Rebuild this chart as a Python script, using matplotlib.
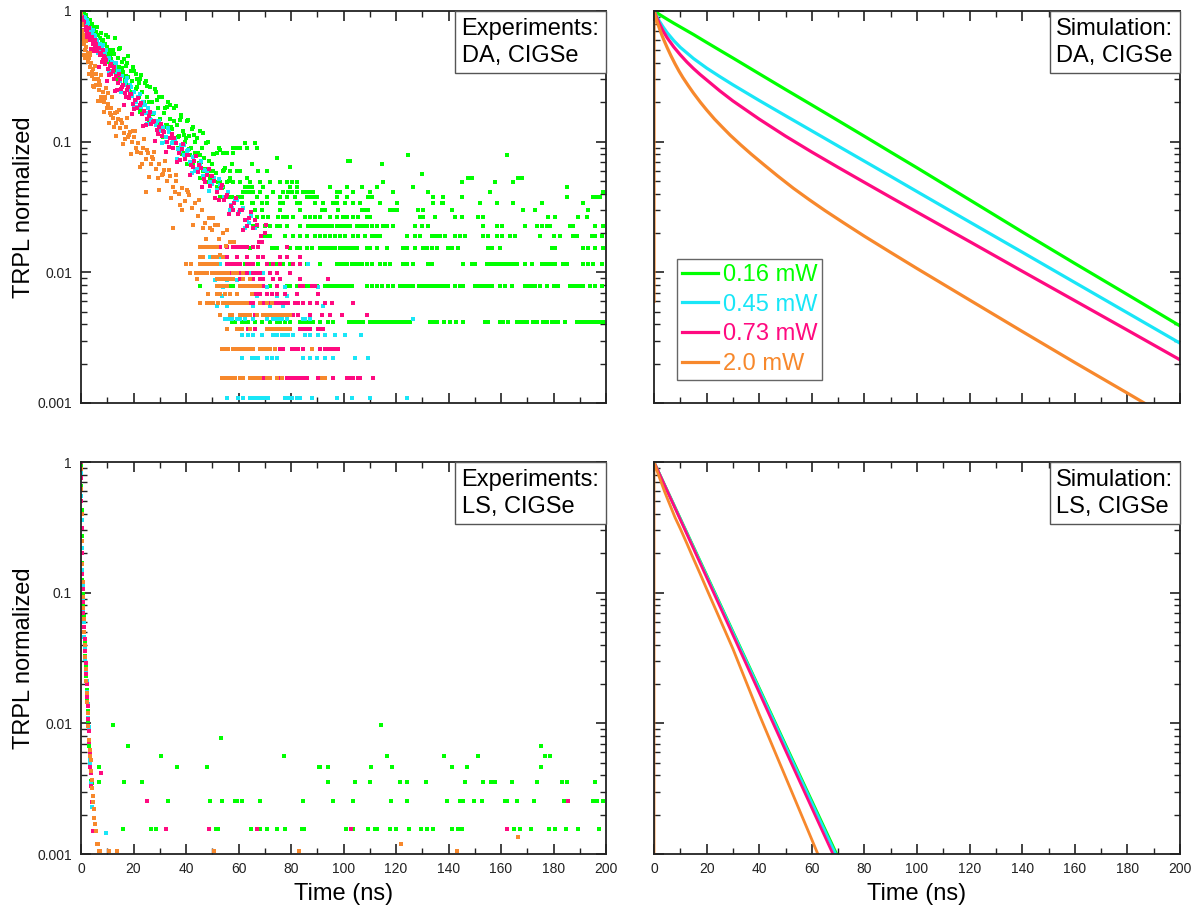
import matplotlib
matplotlib.use("Agg")
import matplotlib.pyplot as plt
from matplotlib.ticker import MultipleLocator, FixedLocator, LogLocator, NullFormatter, FixedFormatter
from matplotlib.offsetbox import AnchoredText

plt.rcParams['font.family'] = ['Liberation Sans', 'DejaVu Sans']

GREEN = '#00FF00'
CYAN = '#19E6F7'
MAGENTA = '#FF0A80'
ORANGE = '#F7882C'

series_labels = ['0.16 mW', '0.45 mW', '0.73 mW', '2.0 mW']
x_ticks = [0, 20, 40, 60, 80, 100, 120, 140, 160, 180, 200]
y_ticks = [0.001, 0.01, 0.1, 1]
y_tick_labels = ['0.001', '0.01', '0.1', '1']

# ---------------- Experiments DA: decay part ----------------
da_green_t = [0.0, 0.3, 0.6, 0.9, 1.2, 1.5, 1.8, 2.1, 2.4, 2.7, 3.0, 3.3, 3.6, 3.9, 4.2, 4.6, 5.0, 5.4, 5.8, 6.2,
              6.6, 7.0, 7.4, 7.8, 8.2, 8.6, 9.0, 9.4, 9.8, 10.2, 10.6, 11.0, 11.5, 12.0, 12.5, 13.0, 13.5, 14.0,
              14.5, 15.0, 15.5, 16.0, 16.6, 17.2, 17.8, 18.4, 19.0, 19.6, 20.2, 20.8, 21.4, 22.0, 22.6, 23.2,
              23.8, 24.4, 25.0, 25.7, 26.4, 27.1, 27.8, 28.5, 29.2, 30.0, 30.8, 31.6, 32.4, 33.2, 34.0, 34.8,
              35.6, 36.4, 37.2, 38.0, 38.8, 39.6, 40.4, 41.2, 42.0, 42.8, 43.6, 44.4, 45.2, 46.0, 46.8]
da_green_y = [1.00, 0.95, 0.90, 0.97, 0.86, 0.91, 0.80, 0.87, 0.83, 0.76, 0.84, 0.72, 0.79, 0.70, 0.75, 0.66, 0.73,
              0.62, 0.69, 0.58, 0.66, 0.55, 0.62, 0.52, 0.60, 0.49, 0.56, 0.45, 0.53, 0.47, 0.41, 0.50, 0.43, 0.38,
              0.47, 0.40, 0.35, 0.44, 0.37, 0.32, 0.41, 0.34, 0.29, 0.38, 0.31, 0.27, 0.35, 0.29, 0.24, 0.33, 0.26,
              0.22, 0.30, 0.24, 0.20, 0.28, 0.22, 0.18, 0.26, 0.20, 0.165, 0.24, 0.18, 0.15, 0.22, 0.165, 0.135,
              0.20, 0.15, 0.125, 0.18, 0.135, 0.11, 0.16, 0.12, 0.10, 0.145, 0.11, 0.09, 0.13, 0.10, 0.082, 0.12,
              0.09, 0.075]
da_green_t2 = [1.1, 2.6, 3.4, 4.9, 5.7, 6.9, 7.6, 8.8, 9.6, 10.9, 11.7, 12.8, 13.4, 14.6, 15.2, 16.3, 17.0, 17.9,
               18.7, 19.8, 20.6, 21.3, 22.4, 23.0, 23.9, 25.3, 26.0, 26.9, 28.1, 29.0, 29.8, 31.2, 32.0, 32.9,
               33.8, 35.0, 36.0, 36.8, 37.7, 38.5, 39.4, 40.9, 41.6, 42.4, 43.3, 44.1, 45.5, 46.3, 47.1, 48.2,
               49.5, 50.6, 51.4, 52.5, 53.6, 55.0]
da_green_y2 = [0.96, 0.75, 0.85, 0.60, 0.76, 0.52, 0.68, 0.42, 0.66, 0.35, 0.48, 0.62, 0.336, 0.51, 0.25, 0.43,
               0.316, 0.45, 0.24, 0.37, 0.21, 0.30, 0.17, 0.325, 0.20, 0.265, 0.144, 0.20, 0.254, 0.139, 0.219,
               0.109, 0.18, 0.134, 0.19, 0.102, 0.188, 0.108, 0.146, 0.081, 0.113, 0.146, 0.079, 0.125, 0.061,
               0.107, 0.079, 0.116, 0.062, 0.099, 0.055, 0.080, 0.058, 0.090, 0.044, 0.063]
da_green_t3 = [0.7, 1.9, 3.0, 4.0, 5.2, 6.1, 7.2, 8.1, 9.2, 10.4, 11.2, 12.2, 13.9, 14.9, 15.8, 16.8, 17.5, 18.2,
               19.3, 20.0, 21.0, 22.0, 22.9, 24.6, 25.9, 27.4, 28.8, 30.5, 31.5, 32.7, 34.3, 35.4, 37.0, 38.1,
               39.9, 41.0, 43.0, 44.8, 45.9, 47.7, 48.9, 50.2, 52.0, 53.1, 54.5, 56.2, 57.5]
da_green_y3 = [0.90, 0.93, 0.74, 0.80, 0.60, 0.76, 0.55, 0.58, 0.45, 0.63, 0.45, 0.50, 0.30, 0.52, 0.365, 0.30,
               0.40, 0.25, 0.24, 0.35, 0.253, 0.28, 0.178, 0.293, 0.20, 0.162, 0.209, 0.128, 0.129, 0.184, 0.13,
               0.144, 0.089, 0.154, 0.106, 0.088, 0.113, 0.069, 0.070, 0.098, 0.071, 0.080, 0.049, 0.086, 0.061,
               0.050, 0.067]

da_cyan_t = [0.1, 0.5, 0.9, 1.3, 1.7, 2.1, 2.5, 2.9, 3.3, 3.7, 4.1, 4.6, 5.1, 5.6, 6.1, 6.6, 7.1, 7.6, 8.1, 8.7,
             9.3, 9.9, 10.5, 11.1, 11.7, 12.3, 12.9, 13.6, 14.3, 15.0, 15.7, 16.4, 17.1, 17.9, 18.7, 19.5, 20.3,
             21.1, 21.9, 22.8, 23.7, 24.6, 25.5, 26.4, 27.4, 28.4, 29.4, 30.4, 31.4, 32.5, 33.6, 34.7, 35.8, 36.9,
             38.0, 39.2, 40.4, 41.6, 42.8, 44.0, 45.3, 46.6, 47.9, 49.2, 50.5, 51.8, 53.1, 54.5, 55.9, 57.3, 58.7,
             60.1, 61.6, 63.1, 64.6, 66.1]
da_cyan_y = [1.0, 0.92, 0.86, 0.90, 0.80, 0.76, 0.81, 0.71, 0.74, 0.66, 0.69, 0.62, 0.65, 0.57, 0.60, 0.53, 0.56,
             0.49, 0.52, 0.46, 0.48, 0.42, 0.44, 0.38, 0.41, 0.35, 0.37, 0.33, 0.35, 0.29, 0.32, 0.27, 0.29, 0.25,
             0.27, 0.225, 0.24, 0.20, 0.22, 0.185, 0.20, 0.165, 0.18, 0.15, 0.165, 0.135, 0.145, 0.12, 0.13, 0.108,
             0.118, 0.097, 0.105, 0.088, 0.095, 0.079, 0.085, 0.070, 0.076, 0.062, 0.068, 0.055, 0.060, 0.049,
             0.053, 0.043, 0.047, 0.038, 0.041, 0.033, 0.036, 0.029, 0.031, 0.025, 0.027, 0.022]
da_cyan_t2 = [1.5, 3.1, 4.4, 6.4, 8.4, 10.8, 13.2, 15.3, 17.5, 20.0, 22.5, 25.1, 27.9, 30.9, 33.0, 36.4, 39.1, 42.2,
              45.8, 48.6, 52.4, 56.6, 59.3, 62.4]
da_cyan_y2 = [0.88, 0.63, 0.72, 0.48, 0.55, 0.34, 0.40, 0.24, 0.305, 0.184, 0.23, 0.136, 0.167, 0.098, 0.127, 0.074,
              0.095, 0.058, 0.071, 0.042, 0.052, 0.030, 0.036, 0.022]
da_cyan_t3 = [0.7, 2.3, 3.9, 5.3, 7.3, 9.5, 11.9, 14.0, 16.6, 19.1, 21.6, 24.2, 26.8, 29.6, 32.2, 34.9, 37.6, 40.9,
              43.6, 46.9, 50.0, 53.7, 57.6, 61.0, 64.0]
da_cyan_y3 = [0.90, 0.85, 0.60, 0.64, 0.50, 0.50, 0.34, 0.35, 0.27, 0.26, 0.185, 0.19, 0.147, 0.143, 0.100, 0.105,
              0.085, 0.086, 0.060, 0.061, 0.0475, 0.046, 0.031, 0.030, 0.024]

da_mag_t = [0.0, 0.3, 0.6, 0.9, 1.2, 1.5, 1.8, 2.1, 2.4, 2.8, 3.2, 3.6, 4.0, 4.4, 4.8, 5.2, 5.7, 6.2, 6.7, 7.2, 7.7,
            8.2, 8.7, 9.2, 9.7, 10.3, 10.9, 11.5, 12.1, 12.7, 13.3, 14.0, 14.7, 15.4, 16.1, 16.8, 17.5, 18.3, 19.1,
            19.9, 20.7, 21.5, 22.3, 23.2, 24.1, 25.0, 25.9, 26.8, 27.8, 28.8, 29.8, 30.8, 31.8, 32.9, 34.0, 35.1,
            36.2, 37.3, 38.4, 39.6, 40.8, 42.0, 43.2, 44.4, 45.6, 46.8, 48.0, 49.3, 50.6, 51.9, 53.2, 54.5, 55.8,
            57.1, 58.4, 59.8, 61.2, 62.6, 64.0, 65.5, 67.0, 68.5, 70.0]
da_mag_y = [0.97, 0.90, 0.84, 0.78, 0.82, 0.72, 0.76, 0.68, 0.71, 0.64, 0.67, 0.60, 0.63, 0.56, 0.59, 0.53, 0.56,
            0.49, 0.52, 0.46, 0.48, 0.42, 0.45, 0.39, 0.42, 0.36, 0.38, 0.33, 0.35, 0.30, 0.32, 0.28, 0.30, 0.255,
            0.27, 0.235, 0.25, 0.215, 0.23, 0.195, 0.21, 0.18, 0.19, 0.162, 0.172, 0.148, 0.158, 0.136, 0.145,
            0.122, 0.13, 0.11, 0.118, 0.10, 0.107, 0.09, 0.097, 0.082, 0.088, 0.074, 0.079, 0.066, 0.071, 0.059,
            0.063, 0.052, 0.056, 0.046, 0.050, 0.041, 0.044, 0.036, 0.039, 0.032, 0.034, 0.028, 0.030, 0.025,
            0.026, 0.022, 0.023, 0.019, 0.020]
da_mag_t2 = [1.0, 2.6, 3.8, 5.5, 6.9, 8.4, 9.9, 11.3, 12.9, 14.4, 16.4, 18.0, 19.6, 21.9, 23.7, 26.3, 28.3, 30.3,
             32.4, 34.5, 36.7, 38.9, 41.4, 43.8, 46.2, 48.6, 51.2, 53.9, 56.4, 59.1, 61.9, 64.8, 67.7, 70.6]
da_mag_y2 = [0.72, 0.74, 0.51, 0.60, 0.37, 0.50, 0.29, 0.39, 0.244, 0.33, 0.19, 0.26, 0.164, 0.216, 0.132, 0.169,
             0.102, 0.137, 0.083, 0.114, 0.070, 0.096, 0.056, 0.078, 0.045, 0.062, 0.037, 0.047, 0.028, 0.037,
             0.021, 0.029, 0.017, 0.023]
da_mag_t3 = [0.4, 1.9, 3.0, 4.6, 6.0, 7.9, 9.0, 10.6, 12.4, 13.7, 15.8, 17.2, 18.7, 20.3, 22.7, 24.6, 27.3, 29.3,
             31.3, 33.5, 35.6, 37.8, 40.2, 42.6, 45.0, 47.4, 50.0, 52.6, 55.1, 57.8, 60.5, 63.3, 66.2, 69.0]
da_mag_y3 = [0.88, 0.63, 0.74, 0.49, 0.51, 0.41, 0.44, 0.324, 0.37, 0.25, 0.26, 0.22, 0.232, 0.177, 0.199, 0.135,
             0.141, 0.114, 0.121, 0.091, 0.107, 0.073, 0.079, 0.064, 0.066, 0.0495, 0.055, 0.036, 0.038, 0.030,
             0.030, 0.0225, 0.025, 0.017]

da_orange_t = [0.0, 0.2, 0.4, 0.6, 0.8, 1.0, 1.3, 1.6, 1.9, 2.2, 2.5, 2.8, 3.1, 3.4, 3.8, 4.2, 4.6, 5.0, 5.4, 5.8,
               6.3, 6.8, 7.3, 7.8, 8.3, 8.8, 9.3, 9.8, 10.4, 11.0, 11.6, 12.2, 12.8, 13.5, 14.2, 14.9, 15.6, 16.3,
               17.0, 17.8, 18.6, 19.4, 20.2, 21.0, 21.9, 22.8, 23.7, 24.6, 25.6, 26.6, 27.6, 28.6, 29.6, 30.7,
               31.8, 32.9, 34.0, 35.1, 36.2, 37.4, 38.6, 39.8, 41.0, 42.2, 43.4, 44.7, 46.0, 47.3, 48.6, 49.9,
               51.2, 52.6, 54.0, 55.4, 56.8]
da_orange_y = [0.95, 0.80, 0.70, 0.62, 0.66, 0.56, 0.59, 0.50, 0.53, 0.45, 0.48, 0.41, 0.44, 0.37, 0.40, 0.34,
               0.36, 0.30, 0.33, 0.27, 0.30, 0.25, 0.27, 0.22, 0.24, 0.20, 0.22, 0.18, 0.195, 0.165, 0.18, 0.152,
               0.165, 0.138, 0.15, 0.127, 0.14, 0.117, 0.13, 0.108, 0.118, 0.099, 0.108, 0.09, 0.098, 0.082, 0.09,
               0.074, 0.082, 0.068, 0.074, 0.062, 0.067, 0.056, 0.061, 0.050, 0.055, 0.045, 0.050, 0.040, 0.044,
               0.035, 0.039, 0.031, 0.034, 0.027, 0.030, 0.024, 0.026, 0.021, 0.023, 0.018, 0.020, 0.016, 0.017]
da_orange_t2 = [0.5, 1.2, 2.0, 2.9, 3.6, 4.5, 5.5, 6.5, 7.5, 8.6, 9.6, 10.8, 11.9, 13.2, 14.5, 15.9, 17.4, 19.0,
                20.6, 22.3, 24.1, 24.6, 26.0, 27.9, 29.9, 31.9, 34.1, 35.2, 36.3, 38.5, 40.2, 42.8, 45.1, 47.6,
                50.2, 52.9, 55.6, 58.1]
da_orange_y2 = [0.78, 0.46, 0.59, 0.33, 0.46, 0.265, 0.38, 0.206, 0.325, 0.169, 0.256, 0.139, 0.22, 0.11, 0.175,
                0.096, 0.151, 0.080, 0.121, 0.064, 0.105, 0.041, 0.054, 0.083, 0.043, 0.071, 0.037, 0.0218, 0.056,
                0.030, 0.0425, 0.023, 0.036, 0.018, 0.026, 0.0135, 0.021, 0.017]
da_orange_t3 = [0.9, 1.6, 2.4, 3.3, 4.0, 4.9, 5.9, 6.9, 8.0, 9.0, 10.1, 11.3, 12.5, 13.9, 15.2, 16.7, 18.2, 19.8,
                21.5, 23.3, 25.2, 27.2, 29.2, 31.3, 33.5, 35.7, 37.9, 40.7, 43.5, 46.4, 49.3, 52.2]
da_orange_y3 = [0.64, 0.44, 0.45, 0.48, 0.32, 0.26, 0.33, 0.29, 0.204, 0.215, 0.234, 0.16, 0.13, 0.168, 0.147,
                0.104, 0.112, 0.121, 0.084, 0.068, 0.087, 0.076, 0.053, 0.057, 0.061, 0.041, 0.033, 0.041, 0.034,
                0.022, 0.022, 0.023]

# ---------------- Experiments DA: quantised noise rows (level -> times) ----------------
da_green_levels = [0.0042, 0.0079, 0.0116, 0.0153, 0.0190, 0.0227, 0.0264, 0.0302, 0.0339, 0.0377, 0.0414,
                   0.0450, 0.0490, 0.0527, 0.0564, 0.0600, 0.0638, 0.0675, 0.0712, 0.0750, 0.0787, 0.0825,
                   0.0900, 0.0980]
da_green_rows = [
    [57.4, 58.7, 61.2, 62.5, 63.8, 66.3, 68.8, 72.0, 74.5, 75.8, 77.7, 79.6, 83.4, 84.7, 86.0, 87.2, 88.5, 91.0,
     94.2, 96.1, 102.2, 103.5, 104.8, 106.0, 107.3, 110.1, 111.4, 112.6, 113.9, 115.2, 116.4, 117.7, 119.0,
     120.2, 121.5, 122.8, 124.0, 125.3, 133.0, 134.2, 135.5, 138.1, 140.6, 142.9, 145.7, 153.9, 155.2, 159.6,
     160.9, 162.8, 166.0, 167.2, 168.5, 169.8, 172.3, 173.6, 176.1, 177.4, 179.3, 180.6, 181.8, 184.4, 188.8,
     190.1, 191.4, 192.6, 193.9, 195.2, 196.4, 197.7, 199.0],
    [45.3, 56.8, 58.0, 69.5, 72.0, 74.5, 78.4, 79.6, 82.2, 83.4, 84.7, 86.0, 87.2, 88.5, 89.8, 92.9, 94.2, 95.5,
     96.8, 98.0, 99.3, 100.6, 101.8, 103.1, 108.8, 110.7, 112.6, 114.5, 117.1, 119.0, 121.5, 122.8, 124.0, 125.3,
     126.6, 128.9, 130.2, 131.4, 132.7, 134.0, 135.2, 136.5, 137.8, 139.1, 139.9, 142.5, 144.4, 145.7, 150.1,
     151.4, 152.7, 153.9, 155.2, 156.5, 159.6, 161.5, 164.1, 169.2, 170.4, 171.7, 173.0, 174.9, 177.4, 180.0,
     181.9, 186.3, 187.6, 188.8, 190.1, 191.4, 193.9, 195.8, 198.4],
    [56.8, 58.0, 59.9, 62.5, 65.7, 67.6, 72.0, 74.5, 77.1, 79.6, 86.0, 91.0, 97.4, 98.7, 99.9, 101.2, 103.1,
     104.4, 105.7, 106.9, 108.8, 110.7, 113.9, 115.8, 117.7, 122.8, 124.3, 126.6, 132.3, 133.6, 145.7, 148.8,
     150.1, 154.6, 155.8, 157.1, 158.4, 159.6, 160.9, 162.2, 163.4, 164.7, 166.0, 169.2, 171.7, 175.5, 176.8,
     178.0, 179.3, 180.6, 183.8, 185.0, 191.4, 193.3, 195.2, 198.4],
    [64.4, 72.6, 73.9, 74.8, 79.6, 82.2, 83.4, 86.0, 87.9, 91.0, 91.7, 92.9, 94.2, 95.5, 96.8, 98.7, 99.9, 101.2,
     102.5, 103.8, 105.0, 108.8, 110.1, 112.6, 116.4, 122.8, 124.1, 127.2, 130.4, 131.7, 133.6, 135.5, 139.9,
     141.2, 143.8, 155.2, 156.5, 159.6, 179.3, 180.6, 191.4, 193.3, 195.8, 199.0],
    [70.1, 70.7, 72.0, 77.7, 80.9, 83.4, 86.0, 89.1, 91.0, 92.9, 94.9, 96.8, 98.7, 100.6, 103.8, 105.7, 108.2,
     110.7, 112.0, 113.3, 113.9, 124.1, 127.2, 129.1, 133.6, 134.9, 135.5, 136.8, 138.7, 142.5, 144.4, 146.3,
     153.3, 155.2, 158.4, 160.3, 163.4, 165.3, 174.9, 180.0, 182.5, 187.6, 188.8, 194.6, 195.8, 198.4],
    [65.7, 66.9, 70.1, 72.0, 74.5, 75.8, 78.4, 83.4, 86.6, 87.9, 89.1, 90.4, 91.7, 92.9, 94.2, 95.5, 97.4, 98.7,
     99.9, 101.2, 102.5, 105.0, 106.3, 107.6, 108.8, 110.7, 112.6, 115.2, 116.4, 119.0, 127.2, 129.8, 132.3,
     153.3, 158.4, 160.3, 169.2, 173.6, 175.5, 177.4, 178.7, 186.3, 187.6, 195.8, 199.0],
    [66.9, 69.5, 71.4, 75.2, 77.1, 78.4, 80.9, 85.3, 87.2, 89.1, 91.0, 94.9, 97.4, 99.9, 101.2, 103.8, 105.7,
     108.8, 110.1, 129.1, 130.4, 134.9, 142.5, 145.0, 151.4, 153.3, 178.0, 180.6, 189.5, 192.7],
    [61.2, 66.3, 68.8, 75.8, 83.4, 91.7, 92.9, 98.0, 106.9, 108.2, 109.5, 117.7, 119.0, 120.2, 128.5, 130.4,
     141.2, 168.5, 173.0, 193.3],
    [61.2, 65.0, 65.7, 68.8, 70.7, 75.8, 77.1, 82.2, 83.4, 89.1, 92.3, 96.1, 97.4, 100.6, 103.8, 106.3, 113.9,
     120.3, 134.2, 137.4, 138.0, 152.0, 158.4, 164.7, 175.5, 191.4],
    [52.9, 54.2, 56.8, 57.4, 59.9, 61.2, 66.9, 70.7, 75.8, 78.4, 81.5, 86.0, 87.2, 88.5, 89.8, 97.4, 101.2,
     109.5, 110.7, 134.2, 138.0, 145.0, 185.0, 195.2, 196.5, 197.7],
    [61.8, 63.1, 64.4, 65.7, 68.2, 73.3, 77.1, 79.0, 80.3, 82.2, 84.7, 86.0, 87.2, 88.5, 97.4, 98.7, 103.8,
     110.1, 119.0, 132.3, 155.8, 199.0],
    [51.7, 54.2, 62.5, 63.7, 65.0, 69.5, 79.6, 82.2, 94.9, 101.2, 106.9, 112.6, 126.6, 185.0],
    [47.9, 49.8, 52.9, 55.5, 58.0, 60.6, 64.4, 68.2, 72.0, 75.8, 78.4, 80.3, 82.2, 115.2, 145.0, 157.7, 164.7],
    [45.3, 49.1, 56.8, 63.1, 147.6, 148.8, 166.6, 167.9],
    [129.8],
    [44.7, 46.6, 49.1, 50.4, 54.2, 56.8, 59.3, 60.6, 67.6, 70.7],
    [79.6],
    [40.2, 42.8, 45.3, 49.8, 65.0, 114.5],
    [101.8, 102.5],
    [74.5],
    [124.7, 162.2],
    [38.3, 39.6, 43.4, 51.7, 54.2, 55.5, 58.0],
    [58.0, 59.3, 60.6, 63.1, 66.9],
    [62.5, 66.3],
]

da_cyan_levels = [0.0011, 0.0022, 0.0033, 0.0044, 0.0055, 0.0066, 0.0077, 0.0088, 0.0099, 0.0116, 0.0132]
da_cyan_rows = [
    [55.5, 59.9, 61.8, 64.4, 65.7, 66.9, 68.2, 69.5, 70.7, 71.4, 77.7, 79.0, 80.3, 82.2, 83.4, 87.9, 97.4,
     103.1, 110.1, 124.0],
    [61.2, 65.0, 66.3, 67.6, 70.7, 72.6, 74.5, 84.7, 87.2, 89.8, 93.0, 96.1, 104.4, 109.5],
    [61.2, 63.8, 65.7, 68.8, 73.3, 74.5, 76.4, 77.7, 79.0, 80.9, 85.3, 87.2, 90.4, 93.0, 96.8, 100.6, 106.5],
    [54.9, 56.1, 57.4, 59.3, 60.6, 62.5, 65.7, 70.7, 73.3, 74.5, 75.8, 76.4, 78.4, 84.7, 85.3, 87.2, 126.3],
    [51.7, 55.5, 65.7, 72.0, 77.1, 92.3],
    [53.6, 66.9, 74.5, 78.4],
    [54.2, 70.7, 77.7, 90.4],
    [51.1, 55.5, 59.3],
    [53.0, 56.8, 63.1, 64.4, 66.3, 69.5],
    [53.0, 60.6, 86.6],
    [49.1, 53.0],
]

da_mag_levels = [0.00156, 0.0026, 0.0037, 0.0047, 0.0058, 0.0068, 0.0079, 0.0089, 0.0099, 0.0116, 0.0132, 0.0155]
da_mag_rows = [
    [58.0, 68.2, 69.5, 75.2, 76.4, 78.4, 79.6, 80.9, 82.2, 83.4, 84.7, 86.0, 90.4, 91.7, 93.0, 96.1, 101.2,
     102.5, 103.8, 105.7, 106.3, 111.4],
    [70.7, 72.0, 73.9, 75.8, 77.1, 80.3, 81.5, 82.8, 84.7, 87.9, 91.1, 93.0, 94.2, 95.5, 96.8, 97.4, 98.0],
    [63.8, 66.3, 75.8, 77.7, 83.4, 84.7, 86.0, 87.2, 90.4, 91.1, 91.7, 92.3],
    [64.4, 66.3, 69.5, 73.3, 76.4, 80.9, 82.8, 87.2, 91.7, 94.9, 99.3, 108.8],
    [60.6, 61.8, 63.1, 64.4, 65.7, 69.5, 70.7, 72.0, 73.9, 75.2, 76.4, 77.7, 79.0, 81.5, 82.8, 84.7, 87.2, 89.8,
     93.0, 95.5, 103.8],
    [65.7, 66.9, 68.2, 70.7, 72.6, 74.5, 77.7, 82.2, 90.4],
    [69.5, 74.5, 83.4, 84.7, 87.9, 89.1],
    [60.6, 65.7, 68.2, 69.5, 73.3, 75.8, 83.4, 94.2],
    [56.8, 60.6, 63.1, 65.7, 66.9, 68.2, 72.0, 74.5, 79.6],
    [47.9, 55.5, 56.8, 58.0, 59.3, 60.6, 63.1, 64.4, 65.7, 70.7, 73.3, 75.8, 80.9, 83.4],
    [55.5, 59.3, 63.1, 67.6, 69.5, 75.8, 78.4, 83.4],
    [53.0, 55.5, 58.0, 59.3, 60.6, 61.8, 63.1, 65.7, 67.6, 78.4],
]

da_orange_levels = [0.00156, 0.0026, 0.0037, 0.0047, 0.0058, 0.0068, 0.0079, 0.0089, 0.0099, 0.0116, 0.0132,
                    0.0155]
da_orange_rows = [
    [53.6, 54.9, 56.1, 57.4, 58.7, 60.6, 61.8, 64.4, 65.7, 66.9, 68.2, 70.7, 72.0, 74.5, 76.4, 91.7, 93.0],
    [53.6, 54.9, 56.1, 58.0, 59.3, 60.6, 61.8, 63.1, 64.4, 65.7, 68.2, 69.5, 70.7, 72.0, 73.9, 87.9],
    [55.5, 59.3, 59.9, 61.2, 64.4, 70.7, 72.0, 73.3, 74.5, 75.8, 77.1, 78.4, 79.6],
    [53.0, 56.8, 57.4, 60.6, 61.8, 63.1, 64.4, 66.9, 69.5, 70.7, 72.0, 73.3, 74.5, 75.8, 77.1, 78.4, 79.6],
    [45.3, 47.9, 49.1, 50.4, 52.3, 54.2, 55.5, 56.8, 58.0, 59.3, 60.6, 61.8, 63.1, 68.2, 70.7, 72.6],
    [48.5, 51.7, 53.0, 54.9, 56.8, 59.3, 65.0],
    [51.7, 53.0, 54.2, 55.5, 60.6, 61.8, 63.1, 64.4, 65.7, 66.9, 68.2],
    [44.3, 51.7, 53.0, 54.2, 55.5, 56.8, 58.0, 61.8, 64.4],
    [41.5, 43.8, 45.3, 46.6, 47.9, 49.8, 51.1, 52.3, 53.6, 54.9, 56.1, 58.0, 59.3, 61.8],
    [40.0, 42.0, 45.3, 46.6, 47.9, 49.1, 50.4, 51.7],
    [45.3, 46.6, 50.4, 51.7, 54.2],
    [45.3, 46.6, 47.9, 49.1, 50.4, 51.7],
]

# ---------------- Experiments LS ----------------
ls_green_t = [0.0, 0.1, 0.2, 0.3, 0.42, 0.55, 0.7, 0.85, 1.0, 1.2, 1.4, 1.6, 1.8, 2.0, 2.2, 2.4, 2.6, 2.8, 3.0, 3.2,
              3.4, 3.6, 3.8, 4.0, 4.3, 4.7, 5.1]
ls_green_y = [0.95, 0.66, 0.43, 0.27, 0.17, 0.125, 0.098, 0.079, 0.066, 0.050, 0.041, 0.033, 0.027, 0.023, 0.018,
              0.0155, 0.0125, 0.0105, 0.0087, 0.0067, 0.0057, 0.0046, 0.0036, 0.0035, 0.0025, 0.0025, 0.0015]
ls_cyan_t = [0.05, 0.15, 0.25, 0.36, 0.48, 0.62, 0.78, 0.93, 1.1, 1.3, 1.5, 1.7, 1.9, 2.1, 2.3, 2.5, 2.7, 2.9, 3.1,
             3.3, 3.5, 3.7, 3.9, 4.2, 4.6]
ls_cyan_y = [0.82, 0.55, 0.36, 0.22, 0.15, 0.115, 0.088, 0.073, 0.060, 0.046, 0.038, 0.031, 0.025, 0.021, 0.0175,
             0.014, 0.011, 0.0093, 0.0075, 0.0052, 0.0049, 0.0042, 0.0035, 0.0023, 0.0015]
ls_mag_t = [0.0, 0.08, 0.18, 0.28, 0.38, 0.5, 0.64, 0.8, 0.95, 1.15, 1.35, 1.55, 1.75, 1.95, 2.15, 2.35, 2.55, 2.75,
            2.95, 3.15, 3.35, 3.55, 3.75, 3.95, 4.25, 4.6]
ls_mag_y = [1.0, 0.76, 0.50, 0.31, 0.20, 0.14, 0.107, 0.085, 0.070, 0.055, 0.044, 0.036, 0.029, 0.024, 0.020,
            0.016, 0.0135, 0.0107, 0.0088, 0.0072, 0.0058, 0.0046, 0.0042, 0.0033, 0.0025, 0.0015]
ls_orange_t = [0.02, 0.12, 0.22, 0.33, 0.45, 0.6, 0.75, 0.9, 1.05, 1.25, 1.45, 1.65, 1.85, 2.05, 2.25, 2.45, 2.65,
               2.85, 3.05, 3.25, 3.45, 3.65, 3.85, 4.05, 4.25, 4.45, 4.65, 4.85, 5.1, 5.4, 5.7, 6.0, 6.4, 6.8, 7.2]
ls_orange_y = [0.88, 0.62, 0.40, 0.25, 0.165, 0.12, 0.093, 0.076, 0.063, 0.050, 0.040, 0.032, 0.026, 0.021, 0.017,
               0.0145, 0.012, 0.0095, 0.0075, 0.0062, 0.0056, 0.0052, 0.0043, 0.0037, 0.0032, 0.0028, 0.0025,
               0.0022, 0.0019, 0.0017, 0.0015, 0.0012, 0.0012, 0.00106, 0.00106]

ls_green_levels = [0.00155, 0.00256, 0.00358, 0.0046, 0.0056, 0.0067, 0.0077, 0.00975]
ls_green_rows = [
    [16.1, 26.6, 28.7, 51.5, 52.3, 64.8, 68.0, 70.9, 74.6, 77.9, 84.2, 85.1, 100.9, 103.5, 109.5, 112.0, 112.9,
     117.7, 120.0, 124.9, 129.5, 131.9, 134.2, 141.2, 143.5, 145.0, 165.1, 167.2, 171.4, 178.4, 180.6, 184.8,
     189.5, 197.5],
    [33.0, 49.1, 53.6, 58.6, 59.4, 61.4, 68.0, 84.4, 95.9, 103.5, 118.2, 124.3, 139.6, 144.4, 145.7, 149.7,
     152.6, 161.5, 162.1, 166.0, 172.7, 184.1, 195.0, 196.5, 199.0],
    [6.9, 16.4, 23.4, 94.0, 104.4, 110.1, 121.5, 124.1, 131.4, 146.4, 153.3, 156.2, 157.7, 164.0, 173.6, 183.1,
     185.0, 195.8],
    [6.7, 36.6, 47.9, 90.5, 91.0, 94.2, 110.5, 118.6, 141.2, 147.2, 175.3],
    [30.4, 77.5, 116.6, 138.4, 151.4, 176.7, 178.6],
    [18.0, 175.1],
    [53.2],
    [12.0, 114.3],
]
ls_mag_levels = [0.00155, 0.00256, 0.0042]
ls_mag_rows = [[32.3, 48.6, 67.1, 102.7, 162.1], [25.0, 185.6], [7.8]]
ls_orange_levels = [0.00106, 0.0012, 0.00136]
ls_orange_rows = [[10.8, 13.6, 50.6, 83.2, 143.4], [121.9], [166.6]]
ls_cyan_levels = [0.00144]
ls_cyan_rows = [[9.5]]

# ---------------- Simulation DA ----------------
sim_da_green_t = [0, 2.5, 5, 7.5, 10, 15, 20, 25, 30, 40, 50, 60, 70, 80, 90, 100, 120, 140, 160, 180, 200]
sim_da_green_y = [1.0, 0.929, 0.865, 0.807, 0.755, 0.661, 0.575, 0.501, 0.437, 0.331, 0.251, 0.191, 0.145, 0.110,
                  0.0832, 0.0631, 0.0359, 0.0204, 0.0117, 0.00676, 0.00389]
sim_da_cyan_t = [0, 1, 2, 3.5, 5, 7.5, 10, 15, 20, 25, 30, 40, 50, 60, 70, 80, 90, 100, 120, 140, 160, 180, 200]
sim_da_cyan_y = [1.0, 0.912, 0.839, 0.752, 0.682, 0.594, 0.527, 0.433, 0.366, 0.315, 0.2725, 0.2067, 0.158, 0.121,
                 0.0926, 0.0709, 0.0543, 0.0415, 0.0243, 0.01427, 0.00836, 0.0049, 0.00287]
sim_da_mag_t = [0, 1, 2, 3.5, 5, 7.5, 10, 12.5, 15, 17.5, 20, 25, 30, 40, 50, 60, 70, 80, 90, 100, 120, 140, 160,
                180, 200]
sim_da_mag_y = [1.0, 0.891, 0.804, 0.700, 0.624, 0.531, 0.462, 0.407, 0.363, 0.327, 0.297, 0.245, 0.205, 0.1488,
                0.1103, 0.0833, 0.0636, 0.0488, 0.0375, 0.0289, 0.0172, 0.0102, 0.00607, 0.00361, 0.00214]
sim_da_orange_t = [0, 0, 1, 2, 3, 3.7, 5, 6.5, 8, 9.5, 11, 13, 15, 17.7, 20, 23, 26, 29, 33, 37, 42, 47, 53, 59,
                   65, 72, 80, 90, 100, 120, 140, 160, 180, 200]
sim_da_orange_y = [0.006, 1.0, 0.851, 0.741, 0.653, 0.603, 0.525, 0.452, 0.394, 0.347, 0.309, 0.269, 0.2355,
                   0.1995, 0.175, 0.149, 0.129, 0.112, 0.0944, 0.0802, 0.0661, 0.0547, 0.044, 0.036, 0.0297, 0.024,
                   0.0189, 0.0142, 0.0107, 0.00614, 0.00353, 0.00204, 0.00119, 0.00069]

# ---------------- Simulation LS ----------------
sim_ls_green_t = [0, 10, 20, 30, 40, 50, 60, 70]
sim_ls_green_y = [1.0, 0.37, 0.137, 0.0506, 0.0187, 0.0069, 0.00256, 0.00095]
sim_ls_cyan_t = [0, 10, 20, 30, 40, 50, 60, 70]
sim_ls_cyan_y = [1.0, 0.367, 0.135, 0.0497, 0.0183, 0.0067, 0.00247, 0.00091]
sim_ls_mag_t = [0, 10, 20, 30, 40, 50, 60, 70]
sim_ls_mag_y = [1.0, 0.362, 0.131, 0.0475, 0.0172, 0.0062, 0.00225, 0.00082]
sim_ls_orange_t = [0, 0, 1, 2, 3, 4, 5, 6.3, 8, 10, 12.5, 15, 17.5, 20, 25, 30, 40, 50, 60, 65]
sim_ls_orange_y = [0.0001, 1.0, 0.875, 0.767, 0.676, 0.596, 0.53, 0.457, 0.376, 0.309, 0.238, 0.182, 0.14, 0.107,
                   0.0631, 0.0372, 0.0117, 0.00389, 0.00129, 0.00074]


def expand(levels, rows):
    xs, ys = [], []
    for lv, ts in zip(levels, rows):
        xs.extend(ts)
        ys.extend([lv] * len(ts))
    return xs, ys


W, H = 1194, 914
fig = plt.figure(figsize=(W / 100, H / 100), dpi=100)


def make_ax(x0, x1, y0, y1):
    return fig.add_axes([x0 / W, 1 - y1 / H, (x1 - x0) / W, (y1 - y0) / H])


ax_tl = make_ax(81, 606, 11, 403)
ax_tr = make_ax(654, 1180, 11, 403)
ax_bl = make_ax(81, 606, 462, 854)
ax_br = make_ax(654, 1180, 462, 854)


def style(ax, xlab, ylab):
    ax.set_yscale('log')
    ax.set_xlim(0, 200)
    ax.set_ylim(0.001, 1)
    ax.xaxis.set_major_locator(FixedLocator(x_ticks))
    ax.xaxis.set_minor_locator(MultipleLocator(10))
    ax.yaxis.set_major_locator(FixedLocator(y_ticks))
    ax.yaxis.set_minor_locator(LogLocator(base=10, subs=[2, 3, 4, 5, 6, 7, 8, 9], numticks=20))
    ax.yaxis.set_minor_formatter(NullFormatter())
    ax.tick_params(which='both', direction='in', top=True, right=True, colors='#222222')
    ax.tick_params(which='major', length=7, width=1.2, labelsize=10)
    ax.tick_params(which='minor', length=4, width=1.0)
    ax.tick_params(axis='x', pad=6)
    ax.tick_params(axis='y', pad=6.5)
    for sp in ax.spines.values():
        sp.set_color('#222222')
        sp.set_linewidth(1.3)
        sp.set_zorder(5)
    if xlab:
        ax.xaxis.set_major_formatter(FixedFormatter([str(v) for v in x_ticks]))
        ax.set_xlabel('Time (ns)', fontsize=17)
        ax.xaxis.set_label_coords(0.5, -0.074)
    else:
        ax.set_xticklabels([])
    if ylab:
        ax.yaxis.set_major_formatter(FixedFormatter(y_tick_labels))
        ax.set_ylabel('TRPL normalized', fontsize=17)
        ax.yaxis.set_label_coords(-0.088, 0.5)
    else:
        ax.set_yticklabels([])


def box(ax, text):
    at = AnchoredText(text, loc='upper right', prop=dict(size=17, linespacing=1.3), frameon=True, pad=0.28,
                      borderpad=0.0)
    at.patch.set_boxstyle('square,pad=0')
    at.patch.set_edgecolor('#555555')
    at.patch.set_linewidth(1.0)
    at.set_zorder(6)
    ax.add_artist(at)


MS = 2.6
# --- top left: DA experiments
for (ts, ys, lv, rw, c) in [
    ((da_green_t, da_green_t2, da_green_t3), (da_green_y, da_green_y2, da_green_y3), da_green_levels,
     da_green_rows, GREEN),
    ((da_cyan_t, da_cyan_t2, da_cyan_t3), (da_cyan_y, da_cyan_y2, da_cyan_y3), da_cyan_levels, da_cyan_rows, CYAN),
    ((da_mag_t, da_mag_t2, da_mag_t3), (da_mag_y, da_mag_y2, da_mag_y3), da_mag_levels, da_mag_rows, MAGENTA),
    ((da_orange_t, da_orange_t2, da_orange_t3), (da_orange_y, da_orange_y2, da_orange_y3), da_orange_levels,
     da_orange_rows, ORANGE),
]:
    fx, fy = expand(lv, rw)
    xx = [v for part in ts for v in part] + fx
    yy = [v for part in ys for v in part] + fy
    ax_tl.plot(xx, yy, 's', ms=MS, mew=0, color=c)
style(ax_tl, False, True)
box(ax_tl, 'Experiments:\nDA, CIGSe')

# --- top right: DA simulation
lines = []
for t, y, c, lab in [
    (sim_da_green_t, sim_da_green_y, GREEN, series_labels[0]),
    (sim_da_cyan_t, sim_da_cyan_y, CYAN, series_labels[1]),
    (sim_da_mag_t, sim_da_mag_y, MAGENTA, series_labels[2]),
    (sim_da_orange_t, sim_da_orange_y, ORANGE, series_labels[3]),
]:
    ln, = ax_tr.plot(t, y, '-', color=c, lw=2.3, label=lab)
    lines.append(ln)
style(ax_tr, False, False)
box(ax_tr, 'Simulation:\nDA, CIGSe')
leg = ax_tr.legend(handles=lines, loc='lower left', bbox_to_anchor=(0.044, 0.059), borderaxespad=0,
                   fontsize=17, handlelength=1.55, handletextpad=0.2, labelspacing=0.33, borderpad=0.2,
                   frameon=True, fancybox=False, edgecolor='#666666', framealpha=1)
leg.get_frame().set_linewidth(1.0)
for txt, ln in zip(leg.get_texts(), leg.get_lines()):
    txt.set_color(ln.get_color())

# --- bottom left: LS experiments
for (t, y, lv, rw, c) in [
    (ls_green_t, ls_green_y, ls_green_levels, ls_green_rows, GREEN),
    (ls_cyan_t, ls_cyan_y, ls_cyan_levels, ls_cyan_rows, CYAN),
    (ls_mag_t, ls_mag_y, ls_mag_levels, ls_mag_rows, MAGENTA),
    (ls_orange_t, ls_orange_y, ls_orange_levels, ls_orange_rows, ORANGE),
]:
    fx, fy = expand(lv, rw)
    ax_bl.plot(list(t) + fx, list(y) + fy, 's', ms=MS, mew=0, color=c)
style(ax_bl, True, True)
box(ax_bl, 'Experiments:\nLS, CIGSe')

# --- bottom right: LS simulation
for t, y, c in [
    (sim_ls_green_t, sim_ls_green_y, GREEN),
    (sim_ls_cyan_t, sim_ls_cyan_y, CYAN),
    (sim_ls_mag_t, sim_ls_mag_y, MAGENTA),
    (sim_ls_orange_t, sim_ls_orange_y, ORANGE),
]:
    ax_br.plot(t, y, '-', color=c, lw=2.0)
style(ax_br, True, False)
box(ax_br, 'Simulation:\nLS, CIGSe')

fig.savefig('out.png', dpi=100)
